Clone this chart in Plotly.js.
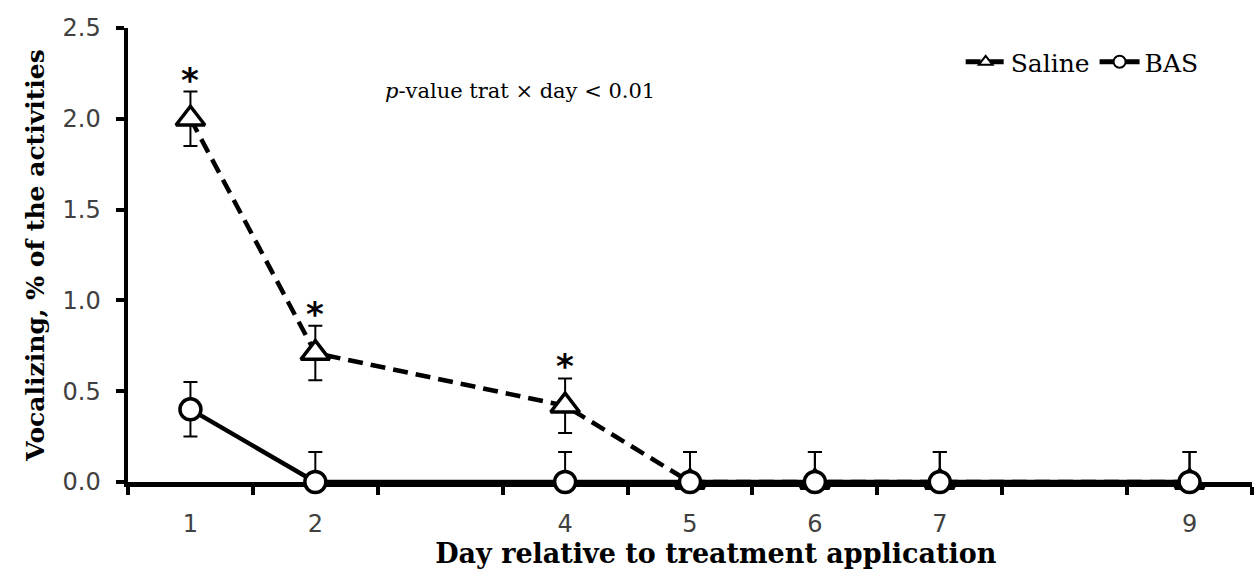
<!DOCTYPE html>
<html>
<head>
<meta charset="utf-8">
<script src="https://cdn.plot.ly/plotly-3.0.1.min.js"></script>
<style>html,body{margin:0;padding:0;background:#fff}#chart{width:1256px;height:576px}</style>
</head>
<body>
<div id="chart"></div>
<script>
// Data
const days = [1, 2, 4, 5, 6, 7, 9];
const dayLabels = ["1", "2", "4", "5", "6", "7", "9"];
const salineMean = [2.00, 0.71, 0.42, 0.00, 0.00, 0.00, 0.00];
const salineErrPlus = [0.15, 0.15, 0.15, 0.165, 0.165, 0.165, 0.165];
const salineErrMinus = [0.15, 0.15, 0.15, 0, 0, 0, 0];
const basMean = [0.40, 0.00, 0.00, 0.00, 0.00, 0.00, 0.00];
const basErrPlus = [0.15, 0.165, 0.165, 0.165, 0.165, 0.165, 0.165];
const basErrMinus = [0.15, 0, 0, 0, 0, 0, 0];
const sigDays = [1, 2, 4];
const seriesNames = ["Saline", "BAS"];
const pValueText = "<i>p</i>-value trat × day < 0.01";
const xTitle = "Day relative to treatment application";
const yTitle = "Vocalizing, % of the activities";

const serif = "DejaVu Serif, Liberation Serif, serif";
const sans = "DejaVu Sans, sans-serif";

const saline = {
  x: days, y: salineMean, name: seriesNames[0], type: "scatter", mode: "lines+markers",
  cliponaxis: false,
  line: {color: "#000", width: 4.5, dash: "15px,8px"},
  marker: {symbol: "triangle-up", size: 25, color: "#fff", line: {color: "#000", width: 3.5}},
  error_y: {type: "data", symmetric: false, array: salineErrPlus, arrayminus: salineErrMinus,
            color: "#000", thickness: 2, width: 7}
};
const bas = {
  x: days, y: basMean, name: seriesNames[1], type: "scatter", mode: "lines+markers",
  cliponaxis: false,
  line: {color: "#000", width: 4.5},
  marker: {symbol: "circle", size: 21, color: "#fff", line: {color: "#000", width: 3.5}},
  error_y: {type: "data", symmetric: false, array: basErrPlus, arrayminus: basErrMinus,
            color: "#000", thickness: 2, width: 7}
};

const annotations = sigDays.map(d => {
  const i = days.indexOf(d);
  return {
    x: d, y: salineMean[i] + salineErrPlus[i], xref: "x", yref: "y",
    text: "<b>*</b>", showarrow: false, yanchor: "bottom", yshift: -10,
    font: {family: sans, size: 34, color: "#000"}
  };
});
annotations.push({
  x: 0.227, y: 0.862, xref: "paper", yref: "paper", xanchor: "left", yanchor: "middle",
  text: pValueText, showarrow: false, font: {family: serif, size: 21, color: "#000"}
});

const layout = {
  width: 1256, height: 576,
  margin: {l: 128, r: 4, t: 28, b: 94},
  paper_bgcolor: "#fff", plot_bgcolor: "#fff",
  showlegend: true,
  legend: {orientation: "h", x: 0.957, xanchor: "right", y: 0.925, yanchor: "middle",
           font: {family: serif, size: 25, color: "#000"}, itemsizing: "constant",
           itemwidth: 40, bgcolor: "rgba(0,0,0,0)"},
  xaxis: {
    range: [0.5, 9.5], showgrid: false, zeroline: false,
    showline: true, linecolor: "#000", linewidth: 4.5, layer: "below traces",
    tickmode: "array", tickvals: days, ticktext: dayLabels,
    ticks: "outside", ticklen: 17, tickcolor: "rgba(0,0,0,0)",
    tickfont: {family: sans, size: 24, color: "#404040"},
    minor: {tick0: 0.5, dtick: 1, ticks: "outside", ticklen: 8, tickwidth: 4, tickcolor: "#000", showgrid: false},
    title: {text: "&nbsp;&nbsp;&nbsp;&nbsp;&nbsp;&nbsp;<b>" + xTitle + "</b>", font: {family: serif, size: 27, color: "#000"}, standoff: 6}
  },
  yaxis: {
    range: [0, 2.5], showgrid: false, zeroline: false,
    showline: true, linecolor: "#000", linewidth: 4.5, layer: "below traces",
    tickmode: "array", tickvals: [0, 0.5, 1.0, 1.5, 2.0, 2.5],
    ticktext: ["0.0", "0.5", "1.0", "1.5", "2.0", "2.5"],
    ticks: "outside", ticklen: 8, tickwidth: 4, tickcolor: "#000",
    ticklabelstandoff: 10,
    tickfont: {family: sans, size: 24, color: "#404040"},
    title: {text: "<b>" + yTitle + "</b>", font: {family: serif, size: 25, color: "#000"}, standoff: 12}
  },
  annotations: annotations
};

Plotly.newPlot("chart", [saline, bas], layout, {displayModeBar: false, staticPlot: true});
</script>
</body>
</html>
